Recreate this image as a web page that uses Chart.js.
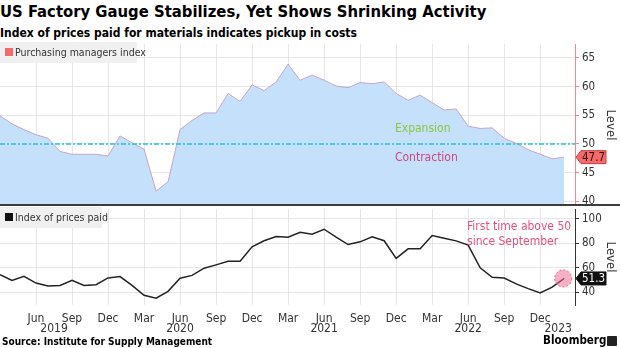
<!DOCTYPE html>
<html>
<head>
<meta charset="utf-8">
<script src="https://cdn.jsdelivr.net/npm/chart.js@4.4.1/dist/chart.umd.min.js"></script>
<style>
  body { margin: 0; background: #fff; width: 620px; height: 348px; overflow: hidden; position: relative;
         font-family: "DejaVu Sans Condensed", "DejaVu Sans", sans-serif; }
  .txt { position: absolute; white-space: nowrap; font-weight: bold; color: #000; line-height: 1; }
  #title { left: 0; top: 4px; font-size: 16.5px; }
  #subtitle { left: 0; top: 27px; font-size: 12px; }
  #source { left: 2px; top: 337px; font-size: 10px; }
  #brand { left: 543px; top: 335px; font-size: 11.5px; }
  #logo { position: absolute; left: 607px; top: 336px; width: 10px; height: 10px; background: #222; border-radius: 1px; }
  #sep { position: absolute; left: 0; top: 204px; width: 620px; height: 2px; background: #3c3c3c; }
  canvas { position: absolute; left: 0; }
  #top { top: 41px; }
  #bottom { top: 206px; }
</style>
</head>
<body>
<div id="title" class="txt">US Factory Gauge Stabilizes, Yet Shows Shrinking Activity</div>
<div id="subtitle" class="txt">Index of prices paid for materials indicates pickup in costs</div>
<canvas id="top" width="620" height="168"></canvas>
<div id="sep"></div>
<canvas id="bottom" width="620" height="142"></canvas>
<div id="source" class="txt">Source: Institute for Supply Management</div>
<div id="brand" class="txt">Bloomberg</div>
<div id="logo"></div>
<script>
const FONT = '"DejaVu Sans Condensed", "DejaVu Sans", sans-serif';

// monthly, Mar 2019 .. Feb 2023
const months = [
  'Mar 2019','Apr 2019','May 2019','Jun 2019','Jul 2019','Aug 2019','Sep 2019','Oct 2019','Nov 2019','Dec 2019',
  'Jan 2020','Feb 2020','Mar 2020','Apr 2020','May 2020','Jun 2020','Jul 2020','Aug 2020','Sep 2020','Oct 2020','Nov 2020','Dec 2020',
  'Jan 2021','Feb 2021','Mar 2021','Apr 2021','May 2021','Jun 2021','Jul 2021','Aug 2021','Sep 2021','Oct 2021','Nov 2021','Dec 2021',
  'Jan 2022','Feb 2022','Mar 2022','Apr 2022','May 2022','Jun 2022','Jul 2022','Aug 2022','Sep 2022','Oct 2022','Nov 2022','Dec 2022',
  'Jan 2023','Feb 2023'
];
const pmi = [
  54.9, 53.5, 52.5, 51.6, 51.0, 48.7, 48.2, 48.2, 48.2, 47.9,
  51.4, 50.2, 49.1, 41.8, 43.4, 52.5, 54.1, 55.4, 55.4, 58.8, 57.4, 60.3,
  59.3, 60.8, 63.9, 61.1, 62.0, 61.1, 60.1, 59.8, 60.7, 60.5, 60.8, 58.8,
  57.6, 58.5, 57.2, 55.9, 56.1, 53.1, 52.7, 52.8, 51.0, 50.1, 49.0, 48.2,
  47.4, 47.7
];
const prices = [
  54.4, 49.6, 53.1, 47.5, 45.1, 45.6, 49.7, 45.5, 46.2, 51.7,
  52.8, 45.6, 37.6, 35.2, 40.8, 51.5, 53.8, 59.7, 62.4, 65.3, 65.3, 77.1,
  82.1, 85.6, 85.0, 89.0, 87.5, 91.5, 85.0, 79.0, 81.2, 85.4, 82.1, 67.7,
  75.5, 75.5, 86.4, 84.2, 82.0, 78.5, 60.0, 52.3, 51.7, 46.9, 43.0, 39.4,
  44.2, 51.3
];
const pmiTicks = [40, 45, 50, 55, 60, 65];
const priceTicks = [40, 60, 80, 100];
const threshold = 50;

const quarterIdx = months.map((m, i) => i).filter(i => i > 0 && /^(Mar|Jun|Sep|Dec)/.test(months[i]));
const grid = '#e6e6e6';

function xScale(showLabels) {
  return {
    type: 'linear', min: 0, max: 47.9,
    afterBuildTicks: s => { s.ticks = quarterIdx.map(v => ({ value: v })); },
    grid: { color: grid, drawTicks: false },
    border: { display: false },
    ticks: {
      display: showLabels, padding: 7, color: '#333', autoSkip: false, maxRotation: 0,
      font: { family: FONT, size: 12 },
      callback: v => months[v].split(' ')[0]
    },
    afterFit: s => { s.height = showLabels ? 43 : 0; }
  };
}

function yScale(ticks, min, max, axisColor) {
  return {
    position: 'right', min: min, max: max,
    afterBuildTicks: s => { s.ticks = ticks.map(v => ({ value: v })); },
    grid: { color: grid, tickColor: axisColor, tickLength: 4 },
    border: { color: axisColor, width: 1 },
    // tiny lineHeight so the labels do not pad the plot area
    ticks: { padding: 3, color: '#333', font: { family: FONT, size: 11.5, lineHeight: 0.01 } },
    title: { display: true, text: 'Level', color: '#333', font: { family: FONT, size: 13 }, padding: { top: 2, bottom: 0 } },
    afterFit: s => { s.width = 45; }
  };
}

function legendBox(ctx, x, y, w, h, color, label) {
  ctx.save();
  ctx.fillStyle = '#f0f0f0';
  ctx.fillRect(x, y, w, h);
  ctx.fillStyle = color;
  ctx.fillRect(x + 5, y + 6, 8, 8);
  ctx.fillStyle = '#333';
  ctx.font = '10.5px ' + FONT;
  ctx.textBaseline = 'middle';
  ctx.fillText(label, x + 15, y + h / 2 + 0.5);
  ctx.restore();
}

function valueTag(ctx, x, y, text, fill, stroke, color) {
  ctx.save();
  ctx.beginPath();
  ctx.moveTo(x, y);
  ctx.lineTo(x + 5, y - 6.5);
  ctx.lineTo(x + 30, y - 6.5);
  ctx.lineTo(x + 30, y + 6.5);
  ctx.lineTo(x + 5, y + 6.5);
  ctx.closePath();
  ctx.fillStyle = fill;
  ctx.fill();
  ctx.strokeStyle = stroke;
  ctx.lineWidth = 1;
  ctx.stroke();
  ctx.fillStyle = color;
  ctx.font = '11.5px ' + FONT;
  ctx.textBaseline = 'middle';
  ctx.fillText(text, x + 6, y + 0.5);
  ctx.restore();
}

const topDecor = {
  id: 'topDecor',
  afterDraw(chart) {
    const { ctx, chartArea: a, scales: { x, y } } = chart;
    const ty = y.getPixelForValue(threshold);
    ctx.save();
    ctx.strokeStyle = '#22c3d3';
    ctx.lineWidth = 1.5;
    ctx.setLineDash([5, 2, 2, 2]);
    ctx.beginPath();
    ctx.moveTo(a.left, ty);
    ctx.lineTo(a.right, ty);
    ctx.stroke();
    ctx.setLineDash([]);
    ctx.font = '12px ' + FONT;
    ctx.textBaseline = 'middle';
    ctx.fillStyle = '#8cc63e';
    ctx.fillText('Expansion', x.getPixelForValue(32.9), ty - 15);
    ctx.fillStyle = '#d2447e';
    ctx.fillText('Contraction', x.getPixelForValue(32.9), ty + 14);
    ctx.restore();
    const last = pmi[pmi.length - 1];
    valueTag(ctx, a.right + 1, y.getPixelForValue(last), last.toFixed(1), '#f26a6a', '#c84040', '#3a0808');
    legendBox(ctx, 0, 1, 137, 21, '#f26a6a', 'Purchasing managers index');
  }
};

const bottomDecor = {
  id: 'bottomDecor',
  afterDraw(chart) {
    const { ctx, chartArea: a, scales: { x, y } } = chart;
    const li = prices.length - 1;
    const px = x.getPixelForValue(li), py = y.getPixelForValue(prices[li]);
    ctx.save();
    ctx.beginPath();
    ctx.arc(px - 1, py, 8.5, 0, Math.PI * 2);
    ctx.fillStyle = 'rgba(244, 110, 150, 0.55)';
    ctx.fill();
    ctx.setLineDash([2, 2]);
    ctx.strokeStyle = '#e9557f';
    ctx.lineWidth = 1;
    ctx.stroke();
    ctx.setLineDash([]);
    ctx.fillStyle = '#e8507c';
    ctx.font = '12px ' + FONT;
    ctx.textBaseline = 'middle';
    ctx.fillText('First time above 50', 467, 21);
    ctx.fillText('since September', 467, 36);

    // year labels under the month ticks
    ctx.fillStyle = '#333';
    ctx.textAlign = 'center';
    const years = [...new Set(months.map(m => m.split(' ')[1]))];
    years.forEach(yr => {
      const idx = months.map((m, i) => i).filter(i => months[i].endsWith(yr));
      const jun = idx.find(i => months[i].startsWith('Jun'));
      const pos = (idx.length === 12) ? jun : idx.reduce((s, v) => s + v, 0) / idx.length;
      ctx.fillText(yr, x.getPixelForValue(pos), a.bottom + 24);
    });
    ctx.restore();
    valueTag(ctx, a.right + 1, py, prices[li].toFixed(1), '#111', '#111', '#fff');
    legendBox(ctx, 0, 1, 102, 21, '#111', 'Index of prices paid');
  }
};

new Chart(document.getElementById('top'), {
  type: 'line',
  data: {
    datasets: [{
      label: 'Purchasing managers index',
      data: pmi.map((v, i) => ({ x: i, y: v })),
      borderColor: '#c7a3c9',
      borderWidth: 1,
      backgroundColor: 'rgba(197, 224, 251, 1)',
      fill: 'start',
      pointRadius: 0,
      tension: 0
    }]
  },
  options: {
    responsive: false,
    animation: false,
    layout: { padding: { top: 1, left: 0, right: 0, bottom: 0 } },
    plugins: { legend: { display: false }, tooltip: { enabled: false } },
    scales: {
      x: xScale(false),
      y: yScale(pmiTicks, 39.2, 67.4, '#ef8a8a')
    }
  },
  plugins: [topDecor]
});

new Chart(document.getElementById('bottom'), {
  type: 'line',
  data: {
    datasets: [{
      label: 'Index of prices paid',
      data: prices.map((v, i) => ({ x: i, y: v })),
      borderColor: '#222',
      borderWidth: 1.5,
      pointRadius: 0,
      fill: false,
      tension: 0
    }]
  },
  options: {
    responsive: false,
    animation: false,
    layout: { padding: { top: 1, left: 0, right: 0, bottom: 0 } },
    plugins: { legend: { display: false }, tooltip: { enabled: false } },
    scales: {
      x: xScale(true),
      y: yScale(priceTicks, 29.6, 108, '#333')
    }
  },
  plugins: [bottomDecor]
});
</script>
</body>
</html>
